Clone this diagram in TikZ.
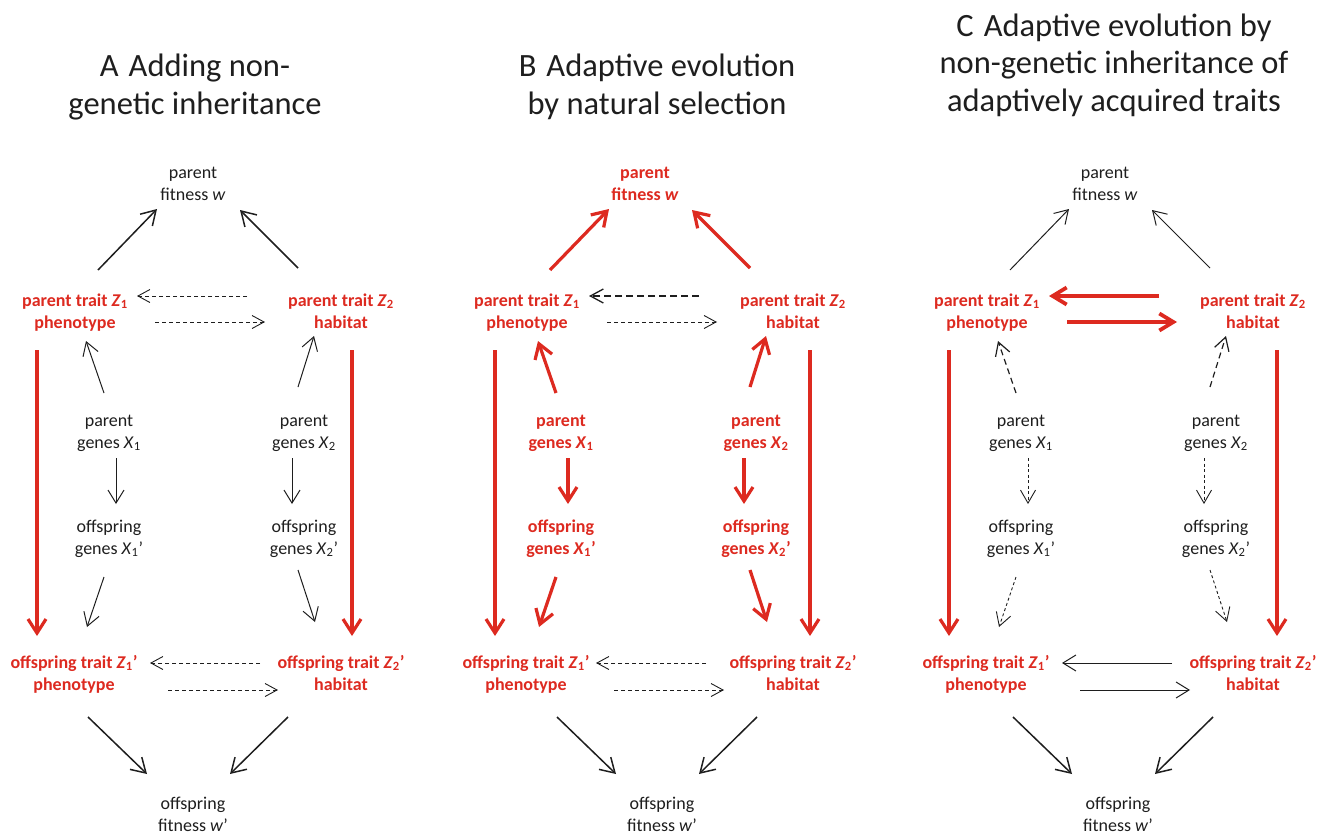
\documentclass[tikz,border=0pt]{standalone}
\usepackage{fontspec}
\setmainfont{Carlito}
\usetikzlibrary{arrows.meta,calc}
\definecolor{myred}{RGB}{221,42,32}
\definecolor{ink}{RGB}{30,30,30}
\newcommand\twoln[2]{\strut #1\\\strut #2}
\newcommand\panel[6]{%
 \node[fittxt] (#1fit) at (#2+193,185) {\twoln{parent}{fitness \textit{w}}};
 \node[trait] (#1Z1) at (#2+75,313) {\twoln{parent trait \textit{Z}\textsubscript{1}}{phenotype}};
 \node[trait] (#1Z2) at (#2+341,313) {\twoln{parent trait \textit{Z}\textsubscript{2}}{habitat}};
 \node[xtxt] (#1X1) at (#2+109,433) {\twoln{parent}{genes \textit{X}\textsubscript{1}}};
 \node[xtxt] (#1X2) at (#2+304,433) {\twoln{parent}{genes \textit{X}\textsubscript{2}}};
 \node[xtxt] (#1X1o) at (#2+109,539) {\twoln{offspring}{genes \textit{X}\textsubscript{1}’}};
 \node[xtxt] (#1X2o) at (#2+304,539) {\twoln{offspring}{genes \textit{X}\textsubscript{2}’}};
 \node[trait] (#1Z1o) at (#2+74,675) {\twoln{offspring trait \textit{Z}\textsubscript{1}’}{phenotype}};
 \node[trait] (#1Z2o) at (#2+341,675) {\twoln{offspring trait \textit{Z}\textsubscript{2}’}{habitat}};
 \node[body] (#1fito) at (#2+193#3,816) {\twoln{offspring}{fitness \textit{w}’}};
 \draw[fitarr] ($(#1Z1)+(23,-43)$) -- ($(#1fit)+(-36,24)$);
 \draw[fitarr] ($(#1Z2)+(-43,-45)$) -- ($(#1fit)+(47,25)$);
 \draw[topL] ($(#1Z2)+(-94,-17)$) -- ($(#1Z1)+(62,-17)$);
 \draw[topR] ($(#1Z1)+(80,9)$) -- ($(#1Z2)+(-76,9)$);
 \draw[vert] ($(#1Z1)+(-38#4,37)$) -- ($(#1Z1o)+(-37#4,-39)$);
 \draw[vert] ($(#1Z2)+(11#5,37)$) -- ($(#1Z2o)+(11#5,-39)$);
 \draw[xz] ($(#1X1)+(-5,-40)$) -- ($(#1Z1)+(11,28)$);
 \draw[xz] ($(#1X2)+(-6,-46)$) -- ($(#1Z2)+(-27,23)$);
 \draw[xx] ($(#1X1)+(7,25)$) -- ($(#1X1o)+(7,-35)$);
 \draw[xx] ($(#1X2)+(-12,25)$) -- ($(#1X2o)+(-12,-35)$);
 \draw[xzo] ($(#1X1o)+(-5,38)$) -- ($(#1Z1o)+(13,-48)$);
 \draw[xzo] ($(#1X2o)+(-6,31)$) -- ($(#1Z2o)+(-26,-53)$);
 \draw[botL] ($(#1Z2o)+(-81#6,-12)$) -- ($(#1Z1o)+(76#6,-12)$);
 \draw[botR] ($(#1Z1o)+(94#6,15)$) -- ($(#1Z2o)+(-63#6,15)$);
 \draw[fitoarr] ($(#1Z1o)+(14#3,42)$) -- ($(#1fito)+(-46,-42)$);
 \draw[fitoarr] ($(#1Z2o)+(-53#3,42)$) -- ($(#1fito)+(37,-42)$);
}
\begin{document}
\begin{tikzpicture}[x=1pt,y=-1pt,
  body/.style={align=center,inner sep=0pt,font=\fontsize{18}{22}\selectfont,text=ink},
  trait/.style={align=center,inner sep=0pt,font=\bfseries\fontsize{18}{22}\selectfont,text=myred},
  titletxt/.style={align=center,inner sep=0pt,font=\fontsize{32.5}{37.5}\selectfont,text=ink},
  arrthin/.style={draw=ink,line width=1pt,-{Straight Barb[length=13pt,width=16pt]}},
  arrmed/.style={draw=ink,line width=1.5pt,-{Straight Barb[length=14pt,width=17pt]}},
  arrred/.style={draw=myred,line width=3.2pt,-{Straight Barb[length=14pt,width=18pt]}},
  arrredB/.style={draw=myred,line width=3.8pt,-{Straight Barb[length=14pt,width=17pt]}},
  arrdash/.style={draw=ink,line width=0.9pt,dash pattern=on 4pt off 3pt,-{Straight Barb[length=12pt,width=13pt]}},
  arrdashB/.style={draw=ink,line width=1.3pt,dash pattern=on 7pt off 4pt,-{Straight Barb[length=13pt,width=14pt]}},
  arrdashC/.style={draw=ink,line width=1.2pt,dash pattern=on 6pt off 4pt,-{Straight Barb[length=13pt,width=15pt]}},
  arrdashD/.style={draw=ink,line width=0.9pt,dash pattern=on 3pt off 2.5pt,-{Straight Barb[length=13pt,width=15pt]}}
 ]
\useasboundingbox (0,0) rectangle (1326,835);
\node[titletxt] (tA) at (195,88) {\strut A\hspace{10pt}Adding non-\\\strut genetic inheritance};
\node[titletxt] (tB) at (657,88) {\strut B\hspace{10pt}Adaptive evolution\\\strut by natural selection};
\node[titletxt] (tC) at (1114,66) {\strut C\hspace{10pt}Adaptive evolution by\\\strut non-genetic inheritance of\\\strut adaptively acquired traits};
\begin{scope}[fittxt/.style={body},xtxt/.style={body},fitarr/.style={arrmed},
  topL/.style={arrdash},topR/.style={arrdash},vert/.style={arrred},
  xz/.style={arrthin},xx/.style={arrthin},xzo/.style={arrthin},
  botL/.style={arrdash},botR/.style={arrdash},fitoarr/.style={arrmed}]
\panel{A}{0}{+0}{+0}{+0}{+0}
\end{scope}
\begin{scope}[fittxt/.style={trait},xtxt/.style={trait},fitarr/.style={arrred},
  topL/.style={arrdashB},topR/.style={arrdash},vert/.style={arrred},
  xz/.style={arrred},xx/.style={arrred},xzo/.style={arrred},
  botL/.style={arrdash},botR/.style={arrdash},fitoarr/.style={arrmed}]
\panel{B}{452}{+17}{+6}{+6}{-6}
\end{scope}
\begin{scope}[fittxt/.style={body},xtxt/.style={body},fitarr/.style={arrthin},
  topL/.style={arrredB},topR/.style={arrredB},vert/.style={arrred},
  xz/.style={arrdashC},xx/.style={arrdashD},xzo/.style={arrdashD},
  botL/.style={arrthin},botR/.style={arrthin},fitoarr/.style={arrmed}]
\panel{C}{912}{+13}{+0}{+13}{+0}
\end{scope}
\end{tikzpicture}
\end{document}
